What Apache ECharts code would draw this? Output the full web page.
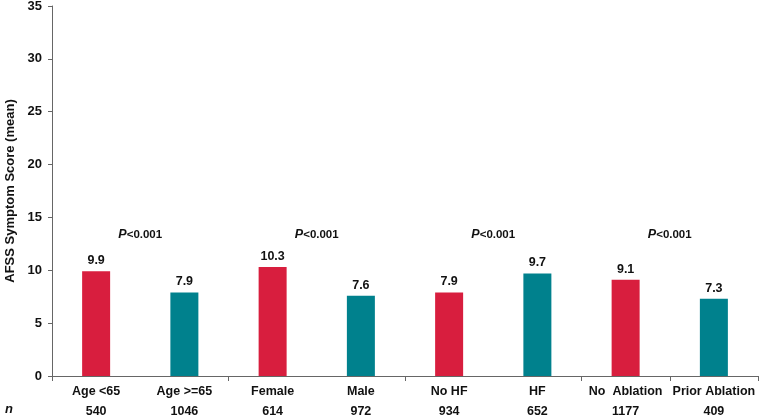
<!DOCTYPE html>
<html>
<head>
<meta charset="utf-8">
<script src="https://cdn.jsdelivr.net/npm/echarts@6/dist/echarts.min.js"></script>
<style>
  html, body { margin: 0; padding: 0; background: #fff; }
  #main { width: 760px; height: 417px; }
</style>
</head>
<body>
<div id="main"></div>
<script>
// groups as shown on the axis
var categories = ["Age <65", "Age >=65", "Female", "Male", "No HF", "HF", "No  Ablation", "Prior Ablation"];
var scores = [9.9, 7.9, 10.3, 7.6, 7.9, 9.7, 9.1, 7.3];
var counts = [540, 1046, 614, 972, 934, 652, 1177, 409];
// p-value notes sit between each pair
var pairPos = [1, 3, 5, 7];
var pairY = [13.4, 13.4, 13.4, 13.4];
var pairText = ["P<0.001", "P<0.001", "P<0.001", "P<0.001"];

var red = "#d81e3e";
var teal = "#00818d";
var font = "Liberation Sans, Arial, sans-serif";

var myChart = echarts.init(document.getElementById("main"));

var option = {
  animation: false,
  textStyle: { fontFamily: font },
  grid: { left: 52, right: 2, top: 6, bottom: 41, outerBoundsMode: "none", containLabel: false },
  xAxis: [
    {
      type: "category",
      data: categories,
      axisLine: { lineStyle: { color: "#666", width: 1 } },
      axisTick: { show: true, interval: 1, length: 5, lineStyle: { color: "#666" } },
      axisLabel: {
        interval: 0,
        margin: 6,
        color: "#111",
        fontWeight: "bold",
        fontSize: 12.5,
        lineHeight: 20,
        formatter: function (val, i) {
          return val + "\n" + counts[i];
        }
      }
    },
    {
      type: "value",
      min: 0,
      max: 8,
      show: false
    }
  ],
  yAxis: {
    type: "value",
    min: 0,
    max: 35,
    interval: 5,
    name: "AFSS Symptom Score (mean)",
    nameLocation: "middle",
    nameGap: 35,
    nameTextStyle: { color: "#111", fontWeight: "bold", fontSize: 13 },
    axisLine: { show: true, lineStyle: { color: "#666" } },
    axisTick: { show: true, length: 4, lineStyle: { color: "#666" } },
    splitLine: { show: false },
    axisLabel: { color: "#111", fontWeight: "bold", fontSize: 13, margin: 10 }
  },
  series: [
    {
      type: "bar",
      barWidth: 28,
      data: scores.map(function (v, i) {
        return { value: v, itemStyle: { color: i % 2 === 0 ? red : teal } };
      }),
      label: {
        show: true,
        position: "top",
        distance: 4,
        color: "#111",
        fontWeight: "bold",
        fontSize: 12.5
      }
    },
    {
      type: "scatter",
      xAxisIndex: 1,
      symbolSize: 1,
      itemStyle: { color: "transparent" },
      data: pairPos.map(function (x, i) { return [x, pairY[i], pairText[i]]; }),
      label: {
        show: true,
        position: "inside",
        color: "#111",
        opacity: 1,
        formatter: function (p) {
          return "{p|P}{t|" + p.data[2].slice(1) + "}";
        },
        rich: {
          p: { fontStyle: "italic", fontWeight: "bold", fontSize: 12.5, color: "#111" },
          t: { fontWeight: "bold", fontSize: 11.5, color: "#111" }
        }
      }
    }
  ],
  graphic: [
    {
      type: "text",
      left: 5,
      top: 403,
      style: { text: "n", font: "italic bold 13px " + font, fill: "#111" }
    }
  ]
};

myChart.setOption(option);
</script>
</body>
</html>
